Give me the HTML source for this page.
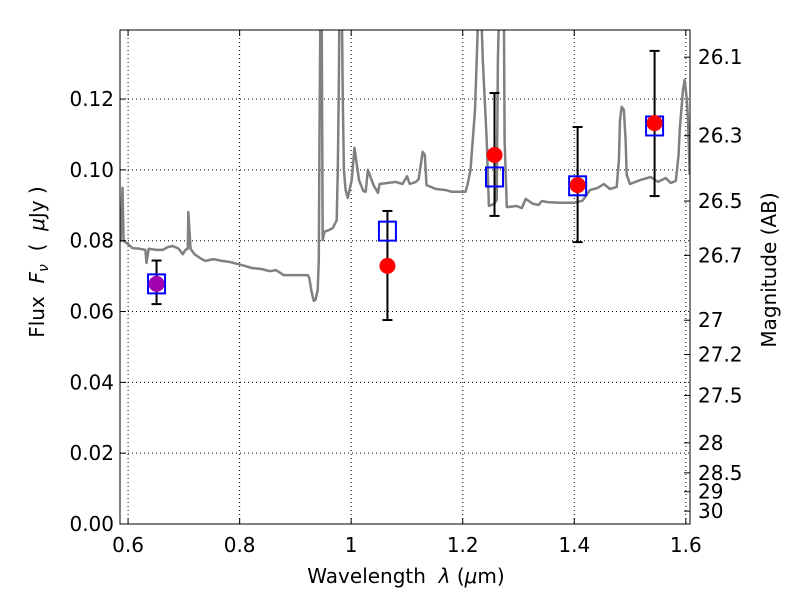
<!DOCTYPE html>
<html><head><meta charset="utf-8"><style>
body{margin:0;background:#fff}
svg text{font-family:"DejaVu Sans","Liberation Sans",sans-serif;font-size:20px;fill:#000;white-space:pre}
</style></head><body>
<svg id="chart" width="800" height="600" xmlns="http://www.w3.org/2000/svg">
<defs><clipPath id="clip"><rect x="120" y="30" width="570" height="494"/></clipPath></defs>
<g id="grid"></g>
<g id="spec" clip-path="url(#clip)"></g>
<g id="pts"></g>
<rect x="120" y="30" width="570" height="494" fill="none" stroke="#000" stroke-width="1"/>
<g id="ticks"></g>
<text x="406" y="583" text-anchor="middle" xml:space="preserve">Wavelength  <tspan font-style="italic">λ</tspan> (<tspan font-style="italic">μ</tspan>m)</text>
<text transform="translate(44,262) rotate(-90)" text-anchor="middle" xml:space="preserve">Flux  <tspan font-style="italic">F<tspan font-size="14" dy="4">ν</tspan></tspan><tspan dy="-4">  (  </tspan><tspan font-style="italic">μ</tspan>Jy )</text>
<text transform="translate(776,270) rotate(-90)" text-anchor="middle">Magnitude (AB)</text>
</svg>
<script>
const xTicks=[0.6,0.8,1.0,1.2,1.4,1.6];
const xTickLabels=["0.6","0.8","1","1.2","1.4","1.6"];
const yTicks=[0,0.02,0.04,0.06,0.08,0.10,0.12];
const yTickLabels=["0.00","0.02","0.04","0.06","0.08","0.10","0.12"];
const magTicks=[26.1,26.3,26.5,26.7,27,27.2,27.5,28,28.5,29,30];
const specLam=[0.5865,0.590,0.592,0.597,0.608,0.621,0.631,0.633,0.637,0.651,0.662,0.671,0.680,0.691,0.698,0.703,0.707,0.708,0.712,0.719,0.732,0.739,0.753,0.768,0.782,0.804,0.822,0.839,0.854,0.865,0.879,0.908,0.922,0.925,0.929,0.933,0.936,0.940,0.942,0.943,0.945,0.947,0.949,0.952,0.960,0.967,0.974,0.976,0.978,0.979,0.983,0.985,0.987,0.990,0.994,1.001,1.006,1.014,1.022,1.026,1.030,1.040,1.048,1.051,1.065,1.080,1.092,1.100,1.105,1.116,1.121,1.128,1.132,1.135,1.152,1.170,1.180,1.198,1.205,1.209,1.214,1.222,1.225,1.229,1.232,1.236,1.243,1.247,1.256,1.261,1.263,1.266,1.270,1.274,1.275,1.279,1.297,1.306,1.313,1.326,1.336,1.342,1.352,1.374,1.399,1.415,1.428,1.442,1.453,1.464,1.476,1.480,1.482,1.485,1.489,1.492,1.494,1.500,1.518,1.537,1.550,1.564,1.573,1.582,1.587,1.589,1.595,1.598,1.602,1.604,1.607];
const specFlux=[0.0796,0.0949,0.0799,0.0794,0.0779,0.0777,0.0774,0.0737,0.0777,0.0774,0.0774,0.0782,0.0785,0.0777,0.0762,0.0774,0.0777,0.0881,0.0777,0.0762,0.0748,0.0743,0.0748,0.0743,0.0740,0.0731,0.0723,0.0720,0.0714,0.0717,0.0703,0.0703,0.0703,0.0695,0.0655,0.0630,0.0633,0.0661,0.0746,0.1056,0.15,0.15,0.0802,0.0825,0.0830,0.0836,0.0858,0.1000,0.1254,0.15,0.15,0.1197,0.1000,0.0943,0.0921,0.0971,0.1062,0.0971,0.0940,0.0938,0.1000,0.0957,0.0935,0.0960,0.0963,0.0966,0.0960,0.0982,0.0960,0.0966,0.0974,0.1051,0.1042,0.0957,0.0946,0.0943,0.0938,0.0938,0.0938,0.0960,0.1000,0.1169,0.1310,0.15,0.15,0.1310,0.1084,0.0898,0.0904,0.0915,0.1310,0.15,0.15,0.14,0.1084,0.0895,0.0898,0.0892,0.0918,0.0904,0.0901,0.0912,0.0909,0.0907,0.0907,0.0913,0.0943,0.0949,0.0960,0.0946,0.0952,0.1028,0.1141,0.1178,0.1169,0.1084,0.0986,0.0960,0.0971,0.0980,0.0966,0.0977,0.0963,0.0969,0.1042,0.1113,0.1226,0.1254,0.1197,0.1141,0.0986];
const obsLam=[0.651,1.065,1.257,1.406,1.544];
const obsFlux=[0.0678,0.0729,0.1042,0.0957,0.1132];
const errHi=[0.0744,0.0884,0.1217,0.1121,0.1336];
const errLo=[0.0621,0.0576,0.0870,0.0796,0.0926];
const modelFlux=[0.0678,0.0827,0.0980,0.0955,0.1124];
const dotColors=["#a000b0","red","red","red","red"];

const NS="http://www.w3.org/2000/svg";
const X0=120,X1=690,Y0=524,Y1=30;
const xMin=0.5855,xMax=1.6075,yMin=0,yMax=0.1395;
const sx=v=>X0+(v-xMin)/(xMax-xMin)*(X1-X0);
const sy=v=>Y0-(v-yMin)/(yMax-yMin)*(Y0-Y1);
const magToFlux=m=>Math.pow(10,(23.9-m)/2.5);
function mk(tag,attrs,parent){const e=document.createElementNS(NS,tag);for(const k in attrs)e.setAttribute(k,attrs[k]);parent.appendChild(e);return e;}
const grid=document.getElementById('grid'),ticks=document.getElementById('ticks');
xTicks.forEach((t,i)=>{const x=sx(t);
 const g=mk('line',{x1:x,x2:x,y1:Y1,y2:Y0,stroke:'#000','stroke-dasharray':'1,3','stroke-width':1},grid);
 
 mk('line',{x1:x,x2:x,y1:Y0,y2:Y0-6,stroke:'#000'},ticks);mk('line',{x1:x,x2:x,y1:Y1,y2:Y1+6,stroke:'#000'},ticks);
 const tx=mk('text',{x:x,y:Y0+28,'text-anchor':'middle'},ticks);tx.textContent=xTickLabels[i];
 });
yTicks.forEach((t,i)=>{const y=sy(t);
 const g=mk('line',{x1:X0,x2:X1,y1:y,y2:y,stroke:'#000','stroke-dasharray':'1,3','stroke-width':1},grid);
 
 mk('line',{x1:X0,x2:X0+6,y1:y,y2:y,stroke:'#000'},ticks);
 const tx=mk('text',{x:X0-6,y:y+7,'text-anchor':'end'},ticks);tx.textContent=yTickLabels[i];
 });
magTicks.forEach(m=>{const y=sy(magToFlux(m));
 mk('line',{x1:X1,x2:X1-6,y1:y,y2:y,stroke:'#000'},ticks);
 const tx=mk('text',{x:X1+8,y:y+7,'text-anchor':'start'},ticks);tx.textContent=String(m);
 });
const d=specLam.map((l,i)=>(i?'L':'M')+sx(l).toFixed(1)+','+sy(specFlux[i]).toFixed(1)).join(' ');
const p=mk('path',{d:d,fill:'none',stroke:'#808080','stroke-width':2.5,'stroke-linejoin':'round'},document.getElementById('spec'));

const pts=document.getElementById('pts');
obsLam.forEach((l,i)=>{const x=sx(l);
 const eb=mk('g',{},pts);
 
 mk('line',{x1:x,x2:x,y1:sy(errHi[i]),y2:sy(errLo[i]),stroke:'#000','stroke-width':2},eb);
 mk('line',{x1:x-5,x2:x+5,y1:sy(errHi[i]),y2:sy(errHi[i]),stroke:'#000','stroke-width':2},eb);
 mk('line',{x1:x-5,x2:x+5,y1:sy(errLo[i]),y2:sy(errLo[i]),stroke:'#000','stroke-width':2},eb);
 const sq=mk('rect',{x:x-8.5,y:sy(modelFlux[i])-9.5,width:17,height:19,fill:'none',stroke:'#0000ff','stroke-width':2},pts);
 
 const c=mk('circle',{cx:x,cy:sy(obsFlux[i]),r:8,fill:dotColors[i]},pts);
 });
</script>
</body></html>
